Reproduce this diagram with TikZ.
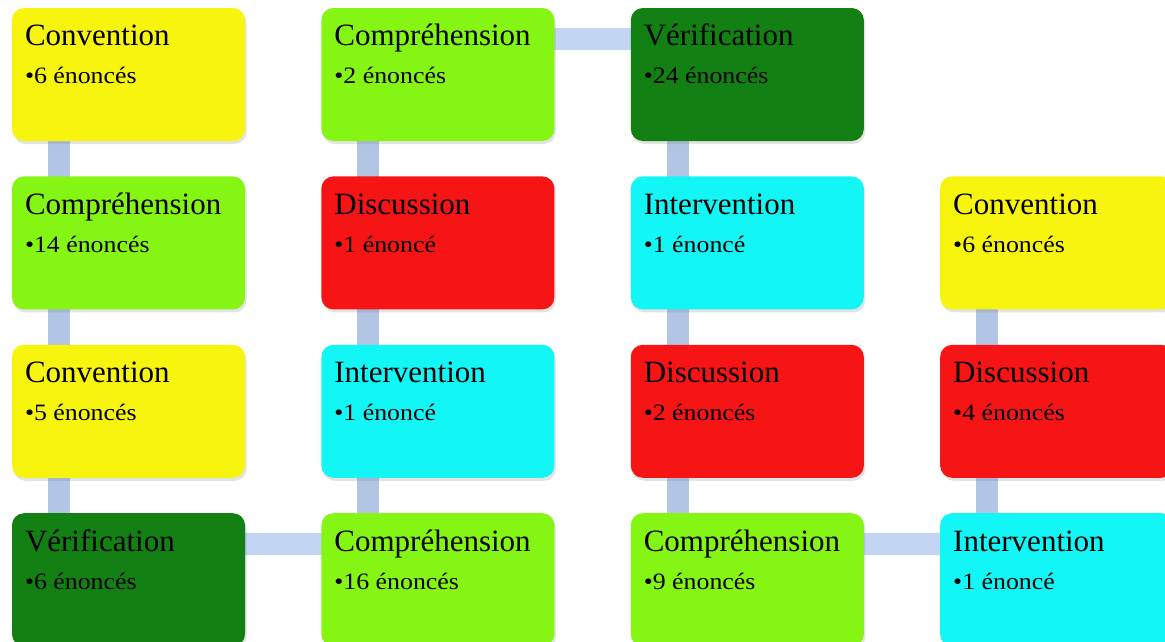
\documentclass[tikz,border=0pt]{standalone}
\usepackage{fontspec}
\setmainfont{Liberation Serif}
\newfontfamily\countfont[FakeStretch=1.1]{Liberation Serif}
\usetikzlibrary{positioning, shadows, backgrounds}

\definecolor{convyellow}{RGB}{247,245,14}
\definecolor{comprgreen}{RGB}{133,246,20}
\definecolor{verifgreen}{RGB}{19,128,20}
\definecolor{discred}{RGB}{246,20,20}
\definecolor{intercyan}{RGB}{18,246,246}
\definecolor{barblue}{RGB}{178,197,229}
\definecolor{hbarblue}{RGB}{194,213,243}

\begin{document}
\begin{tikzpicture}[x=1pt, y=1pt,
    card/.style={rectangle, rounded corners=12pt, minimum width=233pt,
                 minimum height=133pt, inner sep=0pt,
                 drop shadow={shadow xshift=1.5pt, shadow yshift=-3pt, opacity=0.22}},
    title/.style={anchor=base west, inner sep=0pt, font=\fontsize{31}{33}\selectfont},
    count/.style={anchor=base west, inner sep=0pt, font=\countfont\fontsize{23.5}{25}\selectfont},
    bar/.style={draw=barblue, line width=22pt},
    hbar/.style={draw=hbarblue, line width=22pt}
  ]
    \useasboundingbox (0,0) rectangle (1165,-641);
    \clip (0,0) rectangle (1165,-641);
    % Column 1
    \node[card, fill=convyellow] (c11) at (128.5,-74.5) {};
    \node[card, fill=comprgreen, below=35pt of c11] (c12) {};
    \node[card, fill=convyellow, below=35pt of c12] (c13) {};
    \node[card, fill=verifgreen, below=35pt of c13] (c14) {};
    % Column 2
    \node[card, fill=comprgreen, right=76pt of c11] (c21) {};
    \node[card, fill=discred, below=35pt of c21] (c22) {};
    \node[card, fill=intercyan, below=35pt of c22] (c23) {};
    \node[card, fill=comprgreen, below=35pt of c23] (c24) {};
    % Column 3
    \node[card, fill=verifgreen, right=76pt of c21] (c31) {};
    \node[card, fill=intercyan, below=35pt of c31] (c32) {};
    \node[card, fill=discred, below=35pt of c32] (c33) {};
    \node[card, fill=comprgreen, below=35pt of c33] (c34) {};
    % Column 4
    \node[card, fill=convyellow, right=76pt of c32] (c42) {};
    \node[card, fill=discred, below=35pt of c42] (c43) {};
    \node[card, fill=intercyan, below=35pt of c43] (c44) {};
    % Texts
    \foreach \n/\t/\s in {c11/Convention/6 énoncés, c12/Compréhension/14 énoncés,
        c13/Convention/5 énoncés, c14/Vérification/6 énoncés,
        c21/Compréhension/2 énoncés, c22/Discussion/1 énoncé,
        c23/Intervention/1 énoncé, c24/Compréhension/16 énoncés,
        c31/Vérification/24 énoncés, c32/Intervention/1 énoncé,
        c33/Discussion/2 énoncés, c34/Compréhension/9 énoncés,
        c42/Convention/6 énoncés, c43/Discussion/4 énoncés,
        c44/Intervention/1 énoncé} {
      \node[title] (\n-t) at ([shift={(13,-38)}]\n.north west) {\t};
      \node[count] (\n-s) at ([shift={(13,-76)}]\n.north west) {•\s};
    }
    % Connectors
    \begin{scope}[on background layer]
      \draw[bar] ([xshift=-69.5]c11.center) -- ([xshift=-69.5]c12.center);
      \draw[bar] ([xshift=-69.5]c12.center) -- ([xshift=-69.5]c13.center);
      \draw[bar] ([xshift=-69.5]c13.center) -- ([xshift=-69.5]c14.center);
      \draw[hbar] ([yshift=36]c14.center) -- ([yshift=36]c24.center);
      \draw[bar] ([xshift=-69.5]c24.center) -- ([xshift=-69.5]c23.center);
      \draw[bar] ([xshift=-69.5]c23.center) -- ([xshift=-69.5]c22.center);
      \draw[bar] ([xshift=-69.5]c22.center) -- ([xshift=-69.5]c21.center);
      \draw[hbar] ([yshift=36]c21.center) -- ([yshift=36]c31.center);
      \draw[bar] ([xshift=-69.5]c31.center) -- ([xshift=-69.5]c32.center);
      \draw[bar] ([xshift=-69.5]c32.center) -- ([xshift=-69.5]c33.center);
      \draw[bar] ([xshift=-69.5]c33.center) -- ([xshift=-69.5]c34.center);
      \draw[hbar] ([yshift=36]c34.center) -- ([yshift=36]c44.center);
      \draw[bar] ([xshift=-69.5]c44.center) -- ([xshift=-69.5]c43.center);
      \draw[bar] ([xshift=-69.5]c43.center) -- ([xshift=-69.5]c42.center);
    \end{scope}
  \end{tikzpicture}
\end{document}
